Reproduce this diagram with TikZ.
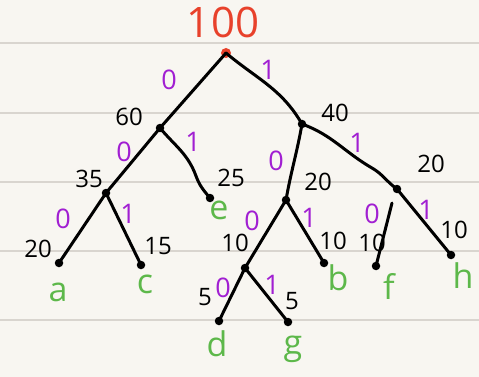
\documentclass[tikz,border=0pt]{standalone}
\usepackage{fontspec}
\setmainfont{Open Sans}
\definecolor{paper}{HTML}{F8F6F1}
\definecolor{rule}{HTML}{D9D5CF}
\definecolor{hred}{HTML}{E8412B}
\definecolor{hpurple}{HTML}{A11FD2}
\definecolor{hgreen}{HTML}{5DB84A}
\begin{document}
\begin{tikzpicture}[x=1pt,y=-1pt,
  pt/.style={circle,fill=black,inner sep=0pt,minimum size=8.5pt},
  edge/.style={line width=3pt,line cap=round,black},
  wt/.style={font=\fontsize{24}{24}\selectfont,inner sep=0pt,black},
  bit/.style={font=\fontsize{27}{27}\selectfont,inner sep=0pt,text=hpurple},
  sym/.style={font=\fontsize{34}{34}\selectfont,inner sep=0pt,text=hgreen}]
\fill[paper] (0,0) rectangle (479,377);
\useasboundingbox (0,0) rectangle (479,377);
\foreach \yy in {43,113,182,251,320}
  \draw[rule,line width=1.2pt] (0,\yy) -- (479,\yy);
% tree points
\node[pt,fill=hred,minimum size=10pt] (root) at (226,53) {};
\node[pt] (n60) at (160,128) {};
\node[pt] (n40) at (302,124) {};
\node[pt] (n35) at (106,193) {};
\node[pt] (e) at (210,198) {};
\node[pt] (n20a) at (286,200) {};
\node[pt] (n20b) at (397,189) {};
\node[pt] (a) at (59,263) {};
\node[pt] (c) at (141,265) {};
\node[pt] (n10) at (245,268) {};
\node[pt] (b) at (324,263) {};
\node[pt] (f) at (376,266) {};
\node[pt] (h) at (451,255) {};
\node[pt] (d) at (219,321) {};
\node[pt] (g) at (288,322) {};
\coordinate (fstart) at (392,203);
% edges
\draw[edge] (root.center) -- (n60.center);
\draw[edge] (root.center) to[out=-40,in=120] (n40.center);
\draw[edge] (n60.center) -- (n35.center);
\draw[edge] (n60.center) to[out=-50,in=110] (196,176) to[out=-70,in=130] (e.center);
\draw[edge] (n40.center) to[out=-100,in=80] (n20a.center);
\draw[edge] (n40.center) to[out=-20,in=150] (372,168) to[out=-30,in=145] (n20b.center);
\draw[edge] (n35.center) -- (a.center);
\draw[edge] (n35.center) -- (c.center);
\draw[edge] (n20a.center) -- (n10.center);
\draw[edge] (n20a.center) -- (b.center);
\draw[edge] (fstart) -- (f.center);
\draw[edge] (n20b.center) -- (h.center);
\draw[edge] (n10.center) -- (d.center);
\draw[edge] (n10.center) -- (g.center);
% root weight
\node[font=\fontsize{42}{42}\selectfont,text=hred,inner sep=0pt] (w100) at (223,22) {100};
% weights
\node[wt] (w60) at (129,117) {60};
\node[wt] (w40) at (335,113) {40};
\node[wt] (w35) at (89,179) {35};
\node[wt] (w25) at (231,178) {25};
\node[wt] (w20a) at (318,182) {20};
\node[wt] (w20b) at (431,164) {20};
\node[wt] (w20) at (38,249) {20};
\node[wt] (w15) at (158,246) {15};
\node[wt] (w10a) at (235,243) {10};
\node[wt] (w10b) at (333,241) {10};
\node[wt] (w10c) at (372,243) {10};
\node[wt] (w10d) at (454,230) {10};
\node[wt] (w5a) at (205,297) {5};
\node[wt] (w5b) at (292,301) {5};
% bits
\node[bit] (b1) at (169,80) {0};
\node[bit] (b2) at (268,70) {1};
\node[bit] (b3) at (124,152) {0};
\node[bit] (b4) at (193,142) {1};
\node[bit] (b5) at (276,161) {0};
\node[bit] (b6) at (357,143) {1};
\node[bit] (b7) at (63,219) {0};
\node[bit] (b8) at (128,214) {1};
\node[bit] (b9) at (252,221) {0};
\node[bit] (b10) at (309,218) {1};
\node[bit] (b11) at (372,214) {0};
\node[bit] (b12) at (426,210) {1};
\node[bit] (b13) at (223,288) {0};
\node[bit] (b14) at (272,285) {1};
% symbols
\node[sym] (la) at (58,292) {a};
\node[sym] (lc) at (145,284) {c};
\node[sym] (le) at (219,210) {e};
\node[sym] (lb) at (338,278) {b};
\node[sym] (lf) at (389,286) {f};
\node[sym] (lh) at (463,276) {h};
\node[sym] (ld) at (217,344) {d};
\node[sym] (lg) at (293,349) {g};
\end{tikzpicture}
\end{document}
